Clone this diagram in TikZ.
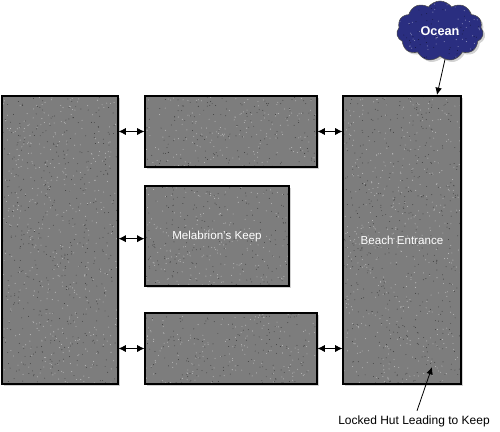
\documentclass[tikz,border=0pt]{standalone}
\usepackage{fontspec}
\setmainfont{Liberation Sans}
\usetikzlibrary{shapes.symbols,shadows,arrows.meta,calc}
\definecolor{stone}{RGB}{125,125,125}
\definecolor{cloudblue}{RGB}{42,46,128}
\begin{document}
\begin{tikzpicture}[x=0.75pt,y=-0.75pt,
  speckle/.style={path picture={
    \pgfpointdiff{\pgfpointanchor{path picture bounding box}{south west}}{\pgfpointanchor{path picture bounding box}{north east}}
    \pgfgetlastxy{\W}{\H}
    \pgfmathsetmacro\n{int((\W/10)*(\H/10)/0.4)}
    \foreach \i in {1,...,\n}{
      \pgfmathsetmacro\rx{rnd*\W}\pgfmathsetmacro\ry{rnd*\H}
      \fill[#1!55!white] ([xshift=\rx pt,yshift=\ry pt]path picture bounding box.south west) circle (0.4pt);
      \pgfmathsetmacro\sx{rnd*\W}\pgfmathsetmacro\sy{rnd*\H}
      \fill[#1!50!black] ([xshift=\sx pt,yshift=\sy pt]path picture bounding box.south west) circle (0.35pt);
    }}},
  room/.style={draw=black,line width=0.8pt,fill=stone,speckle=stone,
    drop shadow={shadow xshift=1.5pt,shadow yshift=-1.5pt,opacity=0.35},
    text=white,font=\fontsize{8.7}{10}\selectfont,inner sep=0pt},
  dbl/.style={{Latex[length=5.5pt,width=5.5pt]}-{Latex[length=5.5pt,width=5.5pt]},line width=0.8pt},
  one/.style={-{Latex[length=5.5pt,width=5pt]},line width=0.6pt},
  lbl/.style={font=\fontsize{9}{10}\selectfont,inner sep=1pt}]
\useasboundingbox (0,0) rectangle (500,432);
\pgfmathsetseed{7}
\node[room,minimum width=87pt,minimum height=216pt] (west) at (60,240) {};
\node[room,minimum width=129pt,minimum height=53.25pt] (north) at (231,131.5) {};
\node[room,minimum width=108pt,minimum height=75pt] (keep) at (217,236) {Melabrion's Keep};
\node[room,minimum width=129pt,minimum height=53.25pt] (south) at (231,348.5) {};
\node[room,minimum width=88.5pt,minimum height=216pt] (beach) at (402,240) {Beach Entrance};
\node[cloud,cloud puffs=11,cloud puff arc=110,aspect=1.5,draw=black!70,line width=0.4pt,
  fill=cloudblue,speckle=cloudblue,minimum width=65pt,minimum height=45pt,inner sep=0pt,
  text=white,font=\fontsize{9.5}{10}\selectfont\bfseries,
  drop shadow={shadow xshift=1.5pt,shadow yshift=-1.5pt,opacity=0.35}] (ocean) at (440,31) {Ocean};
\node[lbl] (hut) at (414,421) {Locked Hut Leading to Keep};
\coordinate (beachin) at (437,95);
\coordinate (hutin) at (432,367);
\draw[dbl] (north.west -| west.east) -- (north.west);
\draw[dbl] ([yshift=-2pt]keep.west -| west.east) -- ([yshift=-2pt]keep.west);
\draw[dbl] (south.west -| west.east) -- (south.west);
\draw[dbl] (north.east) -- (north.east -| beach.west);
\draw[dbl] (south.east) -- (south.east -| beach.west);
\draw[one] (ocean.south) ++(5,3) -- (beachin);
\draw[one] (hut.north) ++(3,-3) -- (hutin);
\end{tikzpicture}
\end{document}
